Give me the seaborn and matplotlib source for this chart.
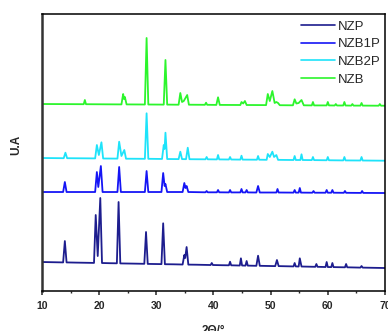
import pandas as pd
import matplotlib
matplotlib.use("Agg")
import matplotlib.pyplot as plt
from matplotlib.ticker import MultipleLocator
import seaborn as sns

# XRD patterns: 2theta (deg) and intensity (a.u., relative
# to each pattern's own baseline)
NZP_X = [10, 13.7, 14.0, 14.3, 16, 19.1, 19.4, 19.75, 20.2, 20.5, 22, 23.1, 23.4, 23.7, 26,
         27.9, 28.2, 28.5, 30.9, 31.2, 31.5, 33, 34.6, 34.9, 35.05, 35.3, 35.6, 37,
         39.5, 39.7, 39.9, 41.5, 42.7, 42.9, 43.1, 44.6, 44.8, 45.0, 45.6, 45.8, 46.0,
         47.5, 47.8, 48.1, 50.8, 51.1, 51.4, 54.0, 54.2, 54.4, 54.9, 55.1, 55.4,
         57.8, 58.0, 58.2, 59.6, 59.8, 60.0, 60.6, 60.8, 61.0, 63.0, 63.2, 63.4,
         65.7, 65.9, 66.1, 70]
NZP_Y = [0, -0.4, 21, -0.4, -0.6, -0.9, 47, 6, 64, -1, -1.2, -1.3, 60, -1.4, -1.6,
         -1.8, 30, -1.9, -2.1, 38.7, -2.2, -2.3, -2.5, 7, 4, 15, -2.6, -2.7,
         -3, -1, -3, -3.2, -3.3, 0.3, -3.3, -3.5, 3.7, -3.5, -3.6, 1, -3.6,
         -3.8, 6.3, -3.8, -4.1, 2, -4.1, -4.4, -1, -4.4, -4.5, 3.7, -4.5,
         -4.8, -2, -4.8, -5, 0, -5, -5.1, -1, -5.1, -5.3, -2, -5.3,
         -5.6, -4, -5.6, -6]

NZB1P_X = [10, 13.7, 14.0, 14.3, 17, 19.3, 19.6, 19.85, 20.3, 20.6, 23.2, 23.5, 23.8,
           28.0, 28.3, 28.6, 30.9, 31.2, 31.45, 31.6, 31.9, 34.6, 34.9, 35.1, 35.3, 35.6,
           38.6, 38.8, 39.0, 40.6, 40.8, 41.0, 42.7, 42.9, 43.1, 44.7, 44.9, 45.1,
           45.6, 45.8, 46.0, 47.5, 47.8, 48.1, 51.0, 51.2, 51.4, 54.0, 54.2, 54.4,
           54.9, 55.1, 55.3, 57.3, 57.5, 57.7, 59.6, 59.8, 60.0, 60.6, 60.8, 61.0,
           62.8, 63.0, 63.2, 65.8, 66.0, 66.2, 70]
NZB1P_Y = [0, 0, 10, 0, 0, 0, 20, 5, 26, 0, 0, 25, 0,
           0, 21, 0, 0, 19, 6, 8, 0, 0, 9, 4, 6, 0,
           -0.3, 1, -0.3, -0.3, 2, -0.3, -0.4, 2, -0.4, -0.4, 3, -0.4,
           -0.4, 2, -0.4, -0.5, 6, -0.5, -0.5, 3, -0.5, -0.6, 2, -0.6,
           -0.6, 4, -0.6, -0.7, 1, -0.7, -0.7, 2, -0.7, -0.7, 2, -0.7,
           -0.8, 1, -0.8, -0.9, 1, -0.9, -1]

NZB2P_X = [10, 13.8, 14.1, 14.4, 17, 19.3, 19.6, 19.95, 20.4, 20.7, 23.2, 23.5, 23.9,
           24.4, 24.7, 28.0, 28.3, 28.6, 31.0, 31.3, 31.45, 31.6, 31.9, 33.9, 34.2, 34.5,
           35.2, 35.5, 35.8, 38.6, 38.8, 39.0, 40.6, 40.8, 41.0, 42.7, 42.9, 43.1,
           44.7, 44.9, 45.1, 47.6, 47.8, 48.0, 49.3, 49.5, 49.85, 50.3, 50.6, 51.0, 51.3,
           54.0, 54.2, 54.4, 55.2, 55.4, 55.6, 57.2, 57.4, 57.6, 59.8, 60.0, 60.2,
           62.7, 62.9, 63.1, 65.7, 65.9, 66.1, 70]
NZB2P_Y = [0, -0.2, 5.3, -0.2, -0.3, -0.4, 13, 3, 15.7, -0.5, -0.6, 16.3, 2,
           8, -0.7, -0.8, 44.7, -0.8, -0.95, 13, 9, 25.3, -1, -1.1, 6.3, -1.1,
           -1.15, 10.3, -1.2, -1.3, 1, -1.3, -1.4, 3, -1.4, -1.5, 1, -1.5,
           -1.6, 2.3, -1.6, -1.7, 2, -1.7, -1.8, 4, 1, 6.3, 1, 3, -1.85,
           -2, 2, -2, -2, 3.7, -2, -2.1, 1, -2.1, -2.25, 1, -2.25,
           -2.4, 1, -2.4, -2.5, 1, -2.5, -2.7]

NZB_X = [10, 17.3, 17.5, 17.7, 23.9, 24.2, 24.35, 24.5, 24.8, 28.0, 28.3, 28.6,
         31.3, 31.6, 31.9, 33.9, 34.2, 34.5, 34.8, 35.4, 35.7, 38.5, 38.7, 38.9,
         40.5, 40.8, 41.1, 44.7, 44.9, 45.2, 45.5, 45.8, 49.2, 49.5, 49.85, 50.3,
         50.7, 51.0, 51.3, 51.6, 53.9, 54.2, 54.5, 54.9, 55.4, 55.8, 57.2, 57.4, 57.6,
         59.8, 60.0, 60.2, 61.2, 61.4, 61.6, 62.7, 62.9, 63.1, 64.1, 64.3, 64.5,
         65.7, 65.9, 66.1, 68.9, 69.1, 69.3, 70]
NZB_Y = [0, -0.2, 4, -0.2, -0.4, 10, 5, 7, -0.4, -0.5, 66, -0.5,
         -0.6, 44, -0.6, -0.7, 11, 2, 3, 9, -0.7, -0.8, 1.3, -0.8,
         -0.9, 6.7, -0.9, -1, 2, 0.5, 3, -1, -1.1, 10, 3, 13,
         1, 2, 1, -1.2, -1.3, 4.7, 0.5, 1, 4, -1.3, -1.4, 2, -1.4,
         -1.4, 2, -1.4, -1.5, 0, -1.5, -1.5, 2, -1.5, -1.6, 0, -1.6,
         -1.6, 1, -1.6, -1.7, 0, -1.7, -1.7]

SAMPLES = ["NZP", "NZB1P", "NZB2P", "NZB"]
COLORS = ["#1d1d8e", "#1515f5", "#1ee3fa", "#2cf52c"]
# vertical stacking offsets used for display
OFFSETS = [29, 99, 133, 187]

series = [(NZP_X, NZP_Y), (NZB1P_X, NZB1P_Y), (NZB2P_X, NZB2P_Y), (NZB_X, NZB_Y)]
frames = []
for name, off, (xs, ys) in zip(SAMPLES, OFFSETS, series):
    frames.append(pd.DataFrame({"two_theta": xs,
                                "intensity": [v + off for v in ys],
                                "sample": name}))
df = pd.concat(frames, ignore_index=True)

sns.set_style("ticks")
plt.rcParams["font.family"] = ["Liberation Sans", "DejaVu Sans"]

fig = plt.figure(figsize=(3.88, 3.31), dpi=100)
ax = fig.add_axes([0.1082, 0.1208, 0.8840, 0.8369])

sns.lineplot(data=df, x="two_theta", y="intensity", hue="sample",
             hue_order=SAMPLES, palette=COLORS, estimator=None,
             linewidth=1.3, ax=ax)

ax.set_xlim(10, 70)
ax.set_ylim(0, 277)
ax.xaxis.set_major_locator(MultipleLocator(10))
ax.xaxis.set_minor_locator(MultipleLocator(5))
ax.set_yticks([])
ax.tick_params(axis="x", which="major", length=3, width=1.1, pad=4,
               labelsize=7.5, direction="out")
ax.tick_params(axis="x", which="minor", length=1.5, width=1.0, direction="out")
for lab in ax.get_xticklabels():
    lab.set_fontweight("bold")

for side in ["top", "right", "bottom"]:
    ax.spines[side].set_linewidth(1.1)
    ax.spines[side].set_color("black")
ax.spines["left"].set_linewidth(1.8)
ax.spines["left"].set_color("#333333")

ax.set_xlabel("2Θ/°", fontsize=8.5, fontweight="bold")
ax.xaxis.set_label_coords(0.5, -0.123)
ax.set_ylabel("U.A", fontsize=8.5, fontweight="bold")
ax.yaxis.set_label_coords(-0.058, 0.527)

leg = ax.legend(loc="upper right", bbox_to_anchor=(1.0, 0.99), frameon=False,
                fontsize=9.5, handlelength=2.6, handletextpad=0.25,
                labelspacing=0.4, borderaxespad=0.1, borderpad=0.2)
for line in leg.get_lines():
    line.set_linewidth(1.2)

fig.savefig("out.png", dpi=100)
